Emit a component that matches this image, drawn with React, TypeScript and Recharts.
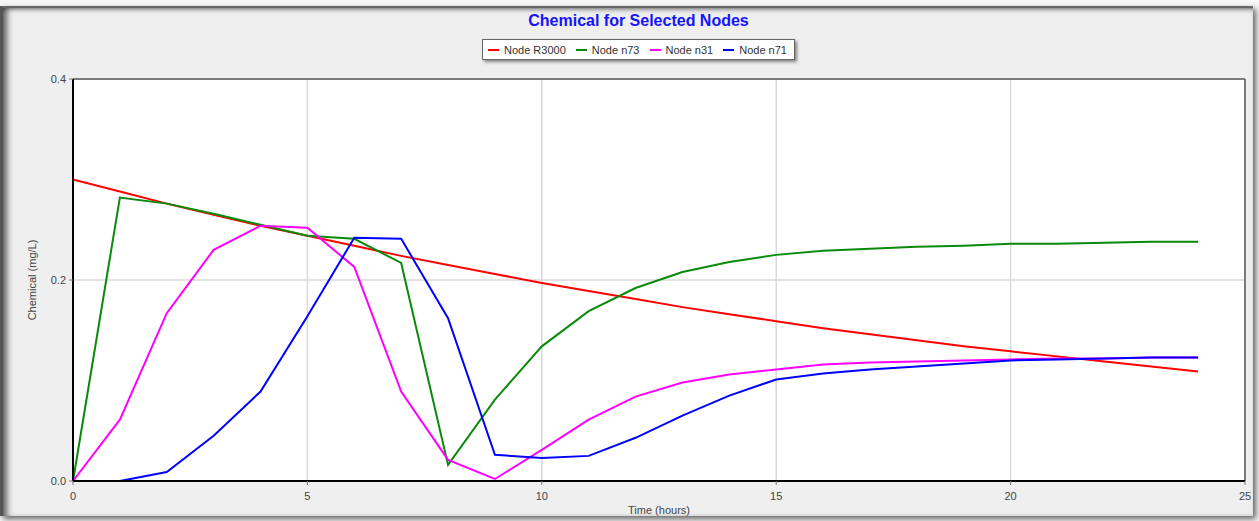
import { LineChart, Line, XAxis, YAxis, CartesianGrid, Legend, ReferenceLine } from "recharts"

const hours = [0, 1, 2, 3, 4, 5, 6, 7, 8, 9, 10, 11, 12, 13, 14, 15, 16, 17, 18, 19, 20, 21, 22, 23, 24]

const nodeR3000 = [0.3, 0.288, 0.276, 0.265, 0.254, 0.244, 0.234, 0.224, 0.215, 0.206, 0.197, 0.189, 0.181, 0.173, 0.166, 0.159, 0.152, 0.146, 0.14, 0.134, 0.129, 0.124, 0.119, 0.114, 0.109]
const nodeN73 = [0, 0.282, 0.276, 0.266, 0.255, 0.244, 0.241, 0.217, 0.016, 0.081, 0.134, 0.169, 0.192, 0.208, 0.218, 0.225, 0.229, 0.231, 0.233, 0.234, 0.236, 0.236, 0.237, 0.238, 0.238]
const nodeN31 = [0, 0.061, 0.167, 0.23, 0.254, 0.252, 0.213, 0.089, 0.021, 0.002, 0.031, 0.061, 0.084, 0.098, 0.106, 0.111, 0.116, 0.118, 0.119, 0.12, 0.121, 0.122, 0.122, 0.123, 0.123]
const nodeN71 = [0, 0, 0.009, 0.045, 0.089, 0.164, 0.242, 0.241, 0.162, 0.026, 0.023, 0.025, 0.043, 0.065, 0.085, 0.101, 0.107, 0.111, 0.114, 0.117, 0.12, 0.121, 0.122, 0.123, 0.123]

const xTicks = [0, 5, 10, 15, 20, 25]
const yTicks = [0, 0.2, 0.4]

const series = [
  { key: "r3000", name: "Node R3000", color: "#ff0000" },
  { key: "n73", name: "Node n73", color: "#0a8a0a" },
  { key: "n31", name: "Node n31", color: "#ff00ff" },
  { key: "n71", name: "Node n71", color: "#0000ff" },
]

const data = hours.map((h, i) => ({
  hour: h,
  r3000: nodeR3000[i],
  n73: nodeN73[i],
  n31: nodeN31[i],
  n71: nodeN71[i],
}))

const font = "'Liberation Sans', Arial, sans-serif"

function LegendBox() {
  return (
    <div
      style={{
        display: "flex",
        alignItems: "center",
        background: "#fff",
        border: "1px solid #666",
        boxShadow: "2px 2px 3px rgba(0,0,0,0.45)",
        padding: "0 7px 0 5px",
        height: 19,
        fontFamily: font,
        fontSize: 11,
        color: "#333",
        whiteSpace: "nowrap",
      }}
    >
      {series.map((s, i) => (
        <div
          key={s.key}
          style={{ display: "flex", alignItems: "center", marginRight: i < series.length - 1 ? 10 : 0 }}
        >
          <span style={{ display: "inline-block", width: 11, height: 2, background: s.color, marginRight: 5 }} />
          <span>{s.name}</span>
        </div>
      ))}
    </div>
  )
}

export default function App() {
  return (
    <div style={{ position: "relative", width: 1259, height: 521, background: "#f7f7f7", overflow: "hidden" }}>
      <style>{`body { margin: 0; }`}</style>
      <div
        style={{
          position: "absolute",
          left: 0,
          top: 6,
          width: 1250,
          height: 508,
          background: "#efefef",
          borderTop: "2px solid #666",
          borderLeft: "3px solid #555",
          boxShadow:
            "inset 7px 0 6px -3px rgba(0,0,0,0.6), inset 0 4px 5px -3px rgba(0,0,0,0.5), 3px 3px 6px rgba(0,0,0,0.6)",
        }}
      />
      <div
        style={{
          position: "absolute",
          top: 12,
          left: 0,
          width: 1277,
          textAlign: "center",
          fontFamily: font,
          fontWeight: "bold",
          fontSize: 16,
          color: "#1414ff",
        }}
      >
        Chemical for Selected Nodes
      </div>
      <div style={{ position: "absolute", left: 0, top: 0 }}>
        <LineChart width={1259} height={521} data={data} margin={{ top: 79, right: 14, bottom: 5, left: 8 }}>
          <CartesianGrid stroke="#d9d9d9" strokeWidth={1.5} fill="#ffffff" />
          <XAxis
            dataKey="hour"
            type="number"
            domain={[0, 25]}
            ticks={xTicks}
            height={35}
            tickSize={4}
            tickMargin={7}
            axisLine={{ stroke: "#000", strokeWidth: 2 }}
            tickLine={{ stroke: "#777" }}
            tick={{ fontSize: 11, fill: "#444", fontFamily: font }}
            label={{ value: "Time (hours)", position: "insideBottom", offset: 2, fontSize: 11, fill: "#444", fontFamily: font }}
          />
          <YAxis
            type="number"
            domain={[0, 0.4]}
            ticks={yTicks}
            width={65}
            tickSize={4}
            tickMargin={3}
            tickFormatter={(v) => Number(v).toFixed(1)}
            axisLine={{ stroke: "#000", strokeWidth: 2 }}
            tickLine={{ stroke: "#777" }}
            tick={{ fontSize: 11, fill: "#444", fontFamily: font }}
            label={{
              content: (props: any) => {
                const vb = props.viewBox
                const cx = 32
                const cy = vb.y + vb.height / 2
                return (
                  <text
                    x={cx}
                    y={cy}
                    transform={`rotate(-90, ${cx}, ${cy})`}
                    textAnchor="middle"
                    dominantBaseline="central"
                    fontSize={11}
                    fill="#444"
                    fontFamily={font}
                  >
                    Chemical (mg/L)
                  </text>
                )
              },
            }}
          />
          <ReferenceLine y={0.4} stroke="#7a7a7a" strokeWidth={2} />
          <ReferenceLine x={25} stroke="#7a7a7a" strokeWidth={2} />
          <Legend
            layout="horizontal"
            verticalAlign="middle"
            align="center"
            content={() => <LegendBox />}
            wrapperStyle={{ position: "absolute", top: 39, left: 482, width: "auto" }}
          />
          {series.map((s) => (
            <Line
              key={s.key}
              dataKey={s.key}
              name={s.name}
              type="linear"
              stroke={s.color}
              strokeWidth={2}
              dot={false}
              activeDot={false}
              isAnimationActive={false}
            />
          ))}
        </LineChart>
      </div>
    </div>
  )
}
